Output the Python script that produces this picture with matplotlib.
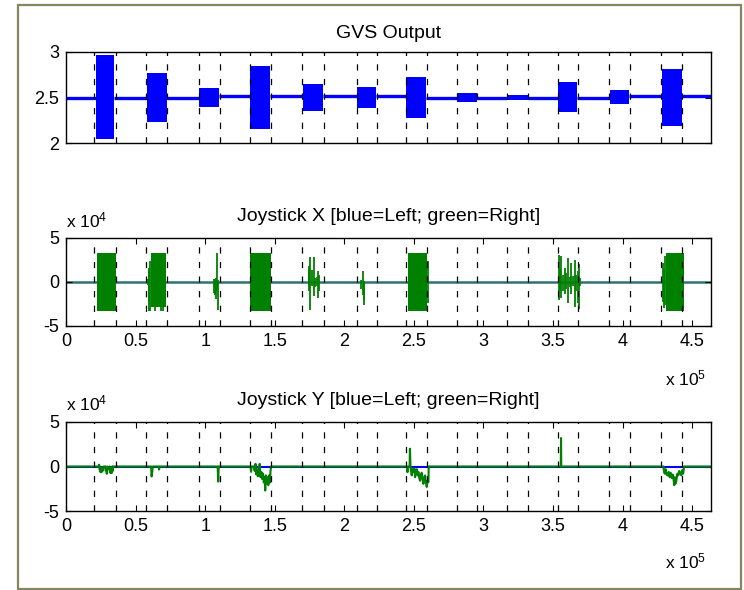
import numpy as np
import matplotlib
matplotlib.use('Agg')
import matplotlib.pyplot as plt
import matplotlib.transforms as mtransforms
from matplotlib.patches import Rectangle

plt.rcParams['font.family'] = ['Liberation Sans', 'DejaVu Sans']
plt.rcParams['mathtext.fontset'] = 'custom'
plt.rcParams['mathtext.rm'] = 'Liberation Sans'
plt.rcParams['mathtext.it'] = 'Liberation Sans:italic'
plt.rcParams['lines.scale_dashes'] = False

# x values are in units of 1e5 samples, joystick values in units of 1e4
X_MAX = 4.636

# stimulus windows (dashed lines)
win_start = [0.201, 0.577, 0.959, 1.319, 1.695, 2.090, 2.442, 2.809, 3.170, 3.535, 3.901, 4.277]
win_end = [0.361, 0.725, 1.110, 1.470, 1.855, 2.238, 2.593, 2.953, 3.319, 3.678, 4.054, 4.425]

# GVS output blocks
gvs_start = [0.218, 0.584, 0.959, 1.324, 1.700, 2.090, 2.445, 2.809, 3.168, 3.539, 3.910, 4.282]
gvs_end = [0.348, 0.723, 1.103, 1.468, 1.846, 2.230, 2.590, 2.953, 3.319, 3.675, 4.049, 4.425]
gvs_hi = [2.97, 2.77, 2.60, 2.85, 2.65, 2.62, 2.72, 2.55, 2.53, 2.67, 2.58, 2.81]
gvs_lo = [2.04, 2.23, 2.40, 2.15, 2.35, 2.39, 2.28, 2.45, 2.47, 2.34, 2.43, 2.19]
gvs_base = [2.497, 2.497, 2.497, 2.512, 2.512, 2.512, 2.512, 2.497, 2.497, 2.497, 2.497, 2.512, 2.512]

# Joystick X: saturated bursts and single excursions
jx_blk_start = [0.222, 0.612, 1.324, 2.461, 4.313]
jx_blk_end = [0.362, 0.716, 1.470, 2.595, 4.440]
jx_blk_lo = [-3.28, -2.8, -3.28, -3.28, -3.28]
jx_blk_hi = [3.28, 3.28, 3.28, 3.28, 3.28]

jx_spk_x = [0.589, 0.594, 0.600, 0.606, 0.640, 0.680, 0.700,
            1.065, 1.070, 1.075, 1.087, 1.094,
            1.744, 1.750, 1.757, 1.769, 1.782, 1.790, 1.803, 1.812, 1.818,
            2.120, 2.133, 2.140, 2.145,
            2.600,
            3.546, 3.552, 3.558, 3.570, 3.585, 3.597, 3.608, 3.620, 3.632,
            3.645, 3.656, 3.668, 3.678, 3.690, 3.698,
            4.292, 4.298, 4.305]
jx_spk_lo = [-0.3, -2.2, -3.28, -3.28, -3.28, -3.28, -3.28,
             -1.2, -1.5, -1.9, -1.0, -3.2,
             -0.5, -1.0, -3.14, -0.5, -1.63, -0.6, -0.4, -1.8, -1.0,
             -0.8, -1.5, -2.6, -2.0,
             -2.4,
             -2.0, -1.0, -1.8, -1.0, -1.4, -0.8, -2.4, -0.6, -1.4,
             -0.5, -2.8, -1.0, -2.4, -3.1, -0.5,
             -2.3, -3.0, -2.6]
jx_spk_hi = [0.3, 1.4, 1.6, 2.4, 3.28, 3.28, 3.28,
             0.3, 0.3, 0.5, 3.28, 0.2,
             1.8, 1.5, 2.84, 1.4, 2.84, 0.5, 0.6, 1.2, 0.8,
             0.2, 1.2, 0.1, 0.0,
             2.4,
             3.1, 1.5, 3.0, 0.8, 1.6, 1.0, 2.7, 0.6, 2.2,
             0.7, 2.5, 0.8, 1.2, 2.0, 0.5,
             2.2, 1.5, 3.0]

# Joystick Y (right stick) trace
jy_x = [0.0, 0.236, 0.238, 0.241, 0.246, 0.250, 0.255, 0.260, 0.268, 0.272, 0.285, 0.288,
        0.294, 0.298, 0.308, 0.312, 0.318, 0.322, 0.327, 0.332, 0.336, 0.338,
        0.612, 0.615, 0.620, 0.624, 0.666, 0.669, 0.673,
        1.090, 1.094, 1.098,
        1.326, 1.330, 1.335, 1.350, 1.356, 1.362, 1.368, 1.374, 1.380, 1.386, 1.392,
        1.398, 1.404, 1.410, 1.416, 1.422, 1.428, 1.432, 1.436, 1.442, 1.448, 1.454,
        1.460, 1.466, 1.470, 1.474,
        2.450, 2.454, 2.458, 2.470, 2.472, 2.476, 2.480, 2.485, 2.491, 2.497, 2.503,
        2.509, 2.515, 2.521, 2.527, 2.533, 2.539, 2.545, 2.551, 2.557, 2.563, 2.569,
        2.575, 2.581, 2.587, 2.593, 2.599, 2.605, 2.607,
        3.556, 3.558, 3.560,
        4.294, 4.298, 4.303, 4.310, 4.316, 4.325, 4.332, 4.339, 4.346, 4.354, 4.361,
        4.368, 4.372, 4.377, 4.382, 4.387, 4.394, 4.401, 4.408, 4.416, 4.423, 4.430,
        4.436, 4.441, 4.443,
        X_MAX]
jy_y = [0.0, 0.0, 0.2, -0.3, -0.6, -0.2, -0.64, -0.1, -0.45, 0.0, 0.0, -0.5,
        -0.82, 0.0, -0.3, 0.0, -0.7, -0.2, -0.75, 0.0, -0.5, 0.0,
        0.0, -1.12, -0.6, 0.0, 0.0, -0.34, 0.0,
        0.0, -1.7, 0.0,
        0.0, -0.6, 0.0, 0.0, -0.5, 0.3, -0.9, -0.3, -1.1, -0.5, 0.3,
        -1.2, -0.6, -1.4, -0.8, -1.8, -1.2, -2.7, -1.0, -1.9, -1.2, -2.1,
        -1.0, -1.8, -0.5, 0.0,
        0.0, -0.64, 0.0, 0.0, 2.0, 0.0, -0.5, -1.0, -0.3, -0.6, -0.2,
        -1.2, -0.5, -0.3, -1.0, -0.6, -1.3, -1.6, -0.9, -0.7, -1.5, -1.95,
        -1.2, -1.0, -1.8, -2.3, -1.6, -1.76, 0.0,
        0.0, 3.2, 0.0,
        0.0, -0.5, -0.8, -0.3, -0.9, -1.0, -0.6, -1.2, -0.7, -1.3, -0.9,
        -1.6, -2.1, -1.2, -1.9, -1.6, -0.8, -1.0, -0.5, -0.8, -1.0, -0.4,
        -0.8, -0.2, 0.0,
        0.0]

x_ticks = [0, 0.5, 1, 1.5, 2, 2.5, 3, 3.5, 4, 4.5]
x_ticklabels = ['0', '0.5', '1', '1.5', '2', '2.5', '3', '3.5', '4', '4.5']
gvs_ticks = [2, 2.5, 3]
gvs_ticklabels = ['2', '2.5', '3']
joy_ticks = [-5, 0, 5]
joy_ticklabels = ['-5', '0', '5']

W, H = 744, 590
fig = plt.figure(figsize=(W / 100, H / 100), dpi=100)
fig.patches.append(Rectangle((18 / W, 1 - 589 / H), 723 / W, 584 / H, transform=fig.transFigure,
                             fill=False, edgecolor='#85855f', linewidth=1.6))


def new_axes(top, bottom):
    return fig.add_axes([66 / W, 1 - bottom / H, 645 / W, (bottom - top) / H])


def style(ax):
    ax.set_xlim(0, X_MAX)
    ax.tick_params(direction='in', top=True, right=True, length=4, width=0.8,
                   labelsize=13, pad=5)
    for s in ax.spines.values():
        s.set_linewidth(1.0)
    for a, b in zip(win_start, win_end):
        for xv in (a, b):
            ax.axvline(xv, color='k', lw=0.9, linestyle=(0, (4.5, 6.0)), zorder=5)


def offset_text(ax, txt, x, y, dx, dy, ha):
    tr = ax.transAxes + mtransforms.ScaledTranslation(dx / 100, dy / 100, fig.dpi_scale_trans)
    ax.text(x, y, txt, transform=tr, ha=ha, va='baseline', fontsize=12.5)


# GVS output
ax1 = new_axes(52, 143)
style(ax1)
ax1.set_ylim(2, 3)
ax1.set_xticks([])
ax1.set_yticks(gvs_ticks)
ax1.set_yticklabels(gvs_ticklabels)
seg_x0 = [0] + gvs_end
seg_x1 = gvs_start + [X_MAX]
for x0, x1, b in zip(seg_x0, seg_x1, gvs_base):
    ax1.plot([x0, x1], [b, b], color='#0000ff', lw=2.4, solid_capstyle='butt')
ax1.bar(gvs_start, np.subtract(gvs_hi, gvs_lo), width=np.subtract(gvs_end, gvs_start),
        bottom=gvs_lo, align='edge', color='#0000ff', linewidth=0)
ax1.set_title('GVS Output', fontsize=14, pad=10)

# Joystick X
ax2 = new_axes(238, 326)
style(ax2)
ax2.set_ylim(-5, 5)
ax2.set_xticks(x_ticks)
ax2.set_xticklabels(x_ticklabels)
ax2.set_yticks(joy_ticks)
ax2.set_yticklabels(joy_ticklabels)
ax2.axhline(0, color='#2f7272', lw=1.8, zorder=1)
ax2.bar(jx_blk_start, np.subtract(jx_blk_hi, jx_blk_lo), width=np.subtract(jx_blk_end, jx_blk_start),
        bottom=jx_blk_lo, align='edge', color='#008000', linewidth=0, zorder=2)
ax2.vlines(jx_spk_x, jx_spk_lo, jx_spk_hi, color='#008000', lw=1.3, zorder=2)
ax2.set_title('Joystick X [blue=Left; green=Right]', fontsize=14, pad=12)
offset_text(ax2, r'x 10$^{4}$', 0, 1, 0, 11, 'left')
offset_text(ax2, r'x 10$^{5}$', 1, 0, -5, -59, 'right')

# Joystick Y
ax3 = new_axes(422, 511)
style(ax3)
ax3.set_ylim(-5, 5)
ax3.set_xticks(x_ticks)
ax3.set_xticklabels(x_ticklabels)
ax3.set_yticks(joy_ticks)
ax3.set_yticklabels(joy_ticklabels)
ax3.plot([0, X_MAX], [0, 0], color='#0000ff', lw=1.5)
ax3.plot(jy_x, jy_y, color='#008000', lw=1.5)
ax3.set_title('Joystick Y [blue=Left; green=Right]', fontsize=14, pad=12)
offset_text(ax3, r'x 10$^{4}$', 0, 1, 0, 12, 'left')
offset_text(ax3, r'x 10$^{5}$', 1, 0, -5, -57, 'right')

fig.savefig('out.png', dpi=100)
